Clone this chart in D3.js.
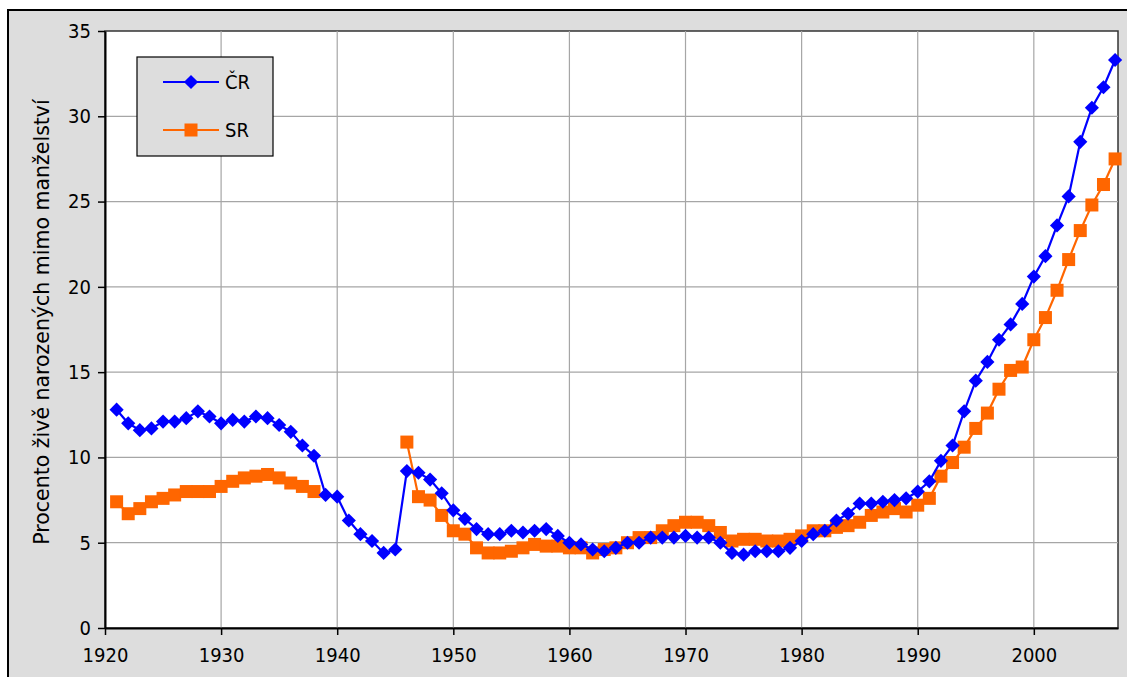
<!DOCTYPE html>
<html>
<head>
<meta charset="utf-8">
<script src="https://cdn.jsdelivr.net/npm/d3@7"></script>
<style>
  body { margin: 0; background: #fff; }
  svg text { font-family: "DejaVu Sans Condensed", "DejaVu Sans", sans-serif; fill: #000; }
</style>
</head>
<body>
<script>
// data: share of live births outside marriage (%)
var years = d3.range(1921, 2008);
var czValues = [
  12.8, 12.0, 11.6, 11.7, 12.1, 12.1, 12.3, 12.7, 12.4, 12.0,
  12.2, 12.1, 12.4, 12.3, 11.9, 11.5, 10.7, 10.1, 7.8, 7.7,
  6.3, 5.5, 5.1, 4.4, 4.6, 9.2, 9.1, 8.7, 7.9, 6.9,
  6.4, 5.8, 5.5, 5.5, 5.7, 5.6, 5.7, 5.8, 5.4, 5.0,
  4.9, 4.6, 4.5, 4.7, 5.0, 5.0, 5.3, 5.3, 5.3, 5.4,
  5.3, 5.3, 5.0, 4.4, 4.3, 4.5, 4.5, 4.5, 4.7, 5.1,
  5.5, 5.7, 6.3, 6.7, 7.3, 7.3, 7.4, 7.5, 7.6, 8.0,
  8.6, 9.8, 10.7, 12.7, 14.5, 15.6, 16.9, 17.8, 19.0, 20.6,
  21.8, 23.6, 25.3, 28.5, 30.5, 31.7, 33.3
];
var srValues = [
  7.4, 6.7, 7.0, 7.4, 7.6, 7.8, 8.0, 8.0, 8.0, 8.3,
  8.6, 8.8, 8.9, 9.0, 8.8, 8.5, 8.3, 8.0, null, null,
  null, null, null, null, null, 10.9, 7.7, 7.5, 6.6, 5.7,
  5.5, 4.7, 4.4, 4.4, 4.5, 4.7, 4.9, 4.8, 4.8, 4.7,
  4.7, 4.4, 4.6, 4.7, 5.0, 5.3, 5.3, 5.7, 6.0, 6.2,
  6.2, 6.0, 5.6, 5.1, 5.2, 5.2, 5.1, 5.1, 5.2, 5.4,
  5.7, 5.7, 5.9, 6.0, 6.2, 6.6, 6.8, 7.0, 6.8, 7.2,
  7.6, 8.9, 9.7, 10.6, 11.7, 12.6, 14.0, 15.1, 15.3, 16.9,
  18.2, 19.8, 21.6, 23.3, 24.8, 26.0, 27.5
];
var xTicks = [1920, 1930, 1940, 1950, 1960, 1970, 1980, 1990, 2000];
var yTicks = [0, 5, 10, 15, 20, 25, 30, 35];
var seriesNames = ["ČR", "SR"];

var W = 1127, H = 677;
var plot = { left: 105, right: 1118, top: 31, bottom: 628 };

var svg = d3.select("body").append("svg")
  .attr("width", W)
  .attr("height", H);

// outer frame
svg.append("rect")
  .attr("x", 8).attr("y", 10)
  .attr("width", W + 20).attr("height", H + 20)
  .attr("fill", "#dddddd")
  .attr("stroke", "#000")
  .attr("stroke-width", 2);

var x = d3.scaleLinear().domain([1920, 2007.25]).range([plot.left, plot.right]);
var y = d3.scaleLinear().domain([0, 35]).range([plot.bottom, plot.top]);

// plot area
svg.append("rect")
  .attr("x", plot.left).attr("y", plot.top)
  .attr("width", plot.right - plot.left)
  .attr("height", plot.bottom - plot.top)
  .attr("fill", "#fff")
  .attr("stroke", "#333")
  .attr("stroke-width", 1.5);

// grid
svg.append("g").selectAll("line")
  .data(xTicks.slice(1))
  .enter().append("line")
  .attr("x1", function(d) { return x(d); })
  .attr("x2", function(d) { return x(d); })
  .attr("y1", plot.top).attr("y2", plot.bottom)
  .attr("stroke", "#a6a6a6").attr("stroke-width", 1.2);

svg.append("g").selectAll("line")
  .data(yTicks.slice(1, -1))
  .enter().append("line")
  .attr("x1", plot.left).attr("x2", plot.right)
  .attr("y1", function(d) { return y(d); })
  .attr("y2", function(d) { return y(d); })
  .attr("stroke", "#a6a6a6").attr("stroke-width", 1.2);

// axes
var xAxis = svg.append("g")
  .attr("transform", "translate(0," + plot.bottom + ")")
  .call(d3.axisBottom(x).tickValues(xTicks).tickFormat(d3.format("d")).tickSize(7).tickSizeOuter(0).tickPadding(13));
var yAxis = svg.append("g")
  .attr("transform", "translate(" + plot.left + ",0)")
  .call(d3.axisLeft(y).tickValues(yTicks).tickSize(7).tickSizeOuter(0).tickPadding(7));

[xAxis, yAxis].forEach(function(a) {
  a.select(".domain").attr("stroke", "#000").attr("stroke-width", 2);
  a.selectAll(".tick line").attr("stroke", "#000").attr("stroke-width", 1.5);
  a.selectAll(".tick text").attr("font-size", 20).attr("fill", "#000")
    .style("font-family", "'DejaVu Sans Condensed', 'DejaVu Sans', sans-serif");
});

// y label
svg.append("text")
  .attr("transform", "translate(49,322) rotate(-90)")
  .attr("text-anchor", "middle")
  .attr("font-size", 20.5)
  .style("font-family", "'DejaVu Sans', sans-serif")
  .text("Procento živě narozených mimo manželství");

// series
var cz = years.map(function(yr, i) { return { year: yr, v: czValues[i] }; });
var sr = years.map(function(yr, i) { return { year: yr, v: srValues[i] }; });

var line = d3.line()
  .defined(function(d) { return d.v != null; })
  .x(function(d) { return x(d.year); })
  .y(function(d) { return y(d.v); });

var blue = "#0000ff", orange = "#ff6600";
var diamond = d3.symbol().type(d3.symbolDiamond2).size(128);

svg.append("path").datum(sr)
  .attr("d", line).attr("fill", "none")
  .attr("stroke", orange).attr("stroke-width", 2.2);
svg.append("g").selectAll("rect")
  .data(sr.filter(function(d) { return d.v != null; }))
  .enter().append("rect")
  .attr("x", function(d) { return x(d.year) - 6.5; })
  .attr("y", function(d) { return y(d.v) - 6.5; })
  .attr("width", 13).attr("height", 13)
  .attr("fill", orange);

svg.append("path").datum(cz)
  .attr("d", line).attr("fill", "none")
  .attr("stroke", blue).attr("stroke-width", 2.2);
svg.append("g").selectAll("path")
  .data(cz)
  .enter().append("path")
  .attr("d", diamond)
  .attr("transform", function(d) { return "translate(" + x(d.year) + "," + y(d.v) + ")"; })
  .attr("fill", blue);

// legend
var lg = svg.append("g");
lg.append("rect")
  .attr("x", 137).attr("y", 57)
  .attr("width", 136).attr("height", 99)
  .attr("fill", "#dddddd")
  .attr("stroke", "#000").attr("stroke-width", 1.2);

var legendRows = [
  { name: seriesNames[0], color: blue, cy: 82 },
  { name: seriesNames[1], color: orange, cy: 130 }
];
legendRows.forEach(function(r, i) {
  lg.append("line")
    .attr("x1", 163).attr("x2", 219)
    .attr("y1", r.cy).attr("y2", r.cy)
    .attr("stroke", r.color).attr("stroke-width", 2.2);
  if (i === 0) {
    lg.append("path").attr("d", diamond)
      .attr("transform", "translate(191," + r.cy + ")")
      .attr("fill", r.color);
  } else {
    lg.append("rect")
      .attr("x", 184.5).attr("y", r.cy - 6.5)
      .attr("width", 13).attr("height", 13)
      .attr("fill", r.color);
  }
  lg.append("text")
    .attr("x", 225).attr("y", r.cy + 7)
    .attr("font-size", 20)
    .text(r.name);
});
</script>
</body>
</html>
